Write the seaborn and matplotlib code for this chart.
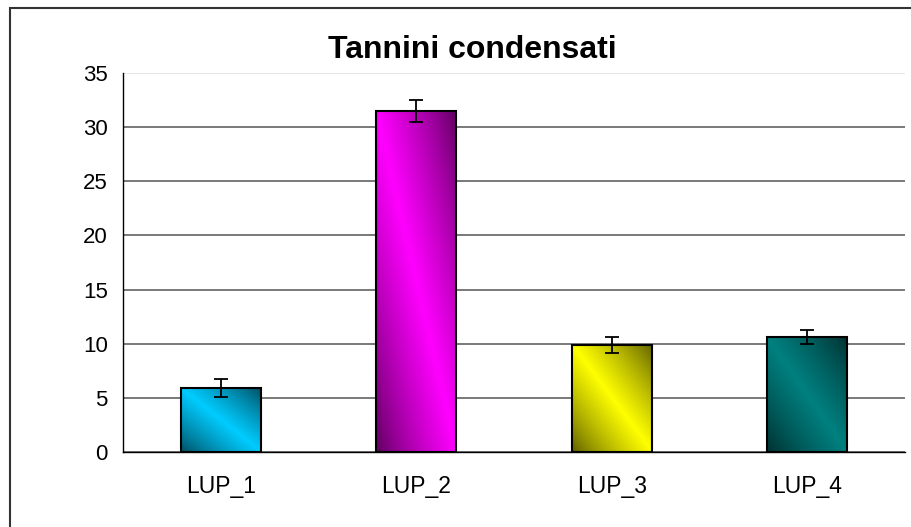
import numpy as np
import matplotlib
matplotlib.use("Agg")
import matplotlib.pyplot as plt
import matplotlib.patches as mpatches
from matplotlib.colors import to_rgb
import seaborn as sns

sns.set_style("white")
plt.rcParams["font.family"] = ["Liberation Sans", "DejaVu Sans"]
plt.rcParams["text.color"] = "black"

# data
categories = ["LUP_1", "LUP_2", "LUP_3", "LUP_4"]
values = [5.9, 31.5, 9.9, 10.6]
errors = [0.8, 1.05, 0.72, 0.64]
colors = ["#00CCFF", "#FF00FF", "#FFFF00", "#008080"]
y_ticks = [0, 5, 10, 15, 20, 25, 30, 35]


def diagonal_gradient(base, dark=0.35, n=200):
    """Excel-like 'diagonal from centre' fill: dark corners, bright band"""
    u = np.linspace(0, 1, n)
    U, V = np.meshgrid(u, u)
    t = (U + V) / 2
    s = (1 - np.abs(2 * t - 1)) ** 0.8
    rgb = np.array(to_rgb(base))
    return rgb[None, None, :] * (dark + (1 - dark) * s)[..., None]


fig = plt.figure(figsize=(9.12, 5.27), dpi=100)
ax = fig.add_axes([123 / 912, 1 - 452 / 527, (905 - 123) / 912, (452 - 73) / 527])

sns.barplot(x=categories, y=values, hue=categories, palette=colors, legend=False,
            width=0.41, edgecolor="black", linewidth=1.5, saturation=1, ax=ax)

# gradient fill clipped to each bar
for patch, c in zip(ax.patches, colors):
    x0, y0 = patch.get_x(), patch.get_y()
    w, h = patch.get_width(), patch.get_height()
    im = ax.imshow(diagonal_gradient(c), extent=[x0, x0 + w, y0, y0 + h],
                   origin="lower", aspect="auto", interpolation="bilinear",
                   zorder=patch.get_zorder())
    im.set_clip_path(patch)
    patch.set_facecolor("none")
    patch.set_zorder(patch.get_zorder() + 0.5)

ax.errorbar(x=np.arange(len(categories)), y=values, yerr=errors, fmt="none",
            ecolor="black", elinewidth=1.3, capsize=5, capthick=1.3, zorder=5)

ax.set_xlim(-0.5, len(categories) - 0.5)
ax.set_ylim(0, 35)
ax.set_yticks(y_ticks)
ax.set_xlabel("")
ax.set_ylabel("")

ax.set_axisbelow(True)
ax.yaxis.grid(True, color="#555555", linewidth=1.1)
ax.yaxis.get_gridlines()[-1].set_color("#e0e0e0")

sns.despine(ax=ax, top=True, right=True)
for side in ["left", "bottom"]:
    ax.spines[side].set_color("black")
    ax.spines[side].set_linewidth(1.0)

ax.tick_params(axis="y", direction="out", length=8, width=1, pad=3,
               labelsize=16, colors="black")
ax.tick_params(axis="x", which="major", length=0, pad=16.5, labelsize=16.5,
               colors="black")
ax.set_xticks(np.arange(len(categories) + 1) - 0.5, minor=True)
ax.tick_params(axis="x", which="minor", direction="out", length=7, width=1,
               color="black")

fig.text(472 / 912, 1 - 58 / 527, "Tannini condensati", ha="center",
         va="baseline", fontsize=23, fontweight="bold", color="black")

# chart area border
fig.patches.append(mpatches.Rectangle((10 / 912, -0.05), 1.1, 1 - 8 / 527 + 0.05,
                                      transform=fig.transFigure, fill=False,
                                      edgecolor="#333333", linewidth=1.5))

plt.savefig("out.png", dpi=100, facecolor="white")
plt.close()
